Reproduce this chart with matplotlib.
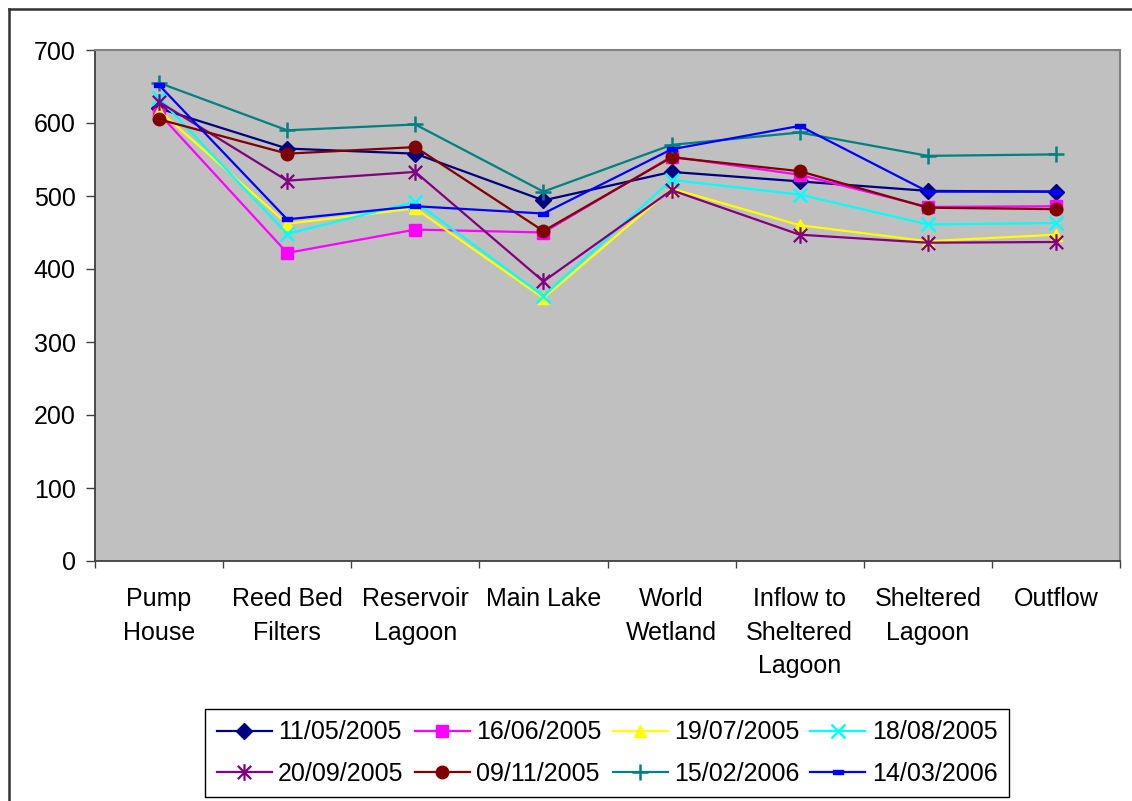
import matplotlib
matplotlib.use("Agg")
import matplotlib.pyplot as plt
import numpy as np
from matplotlib.lines import Line2D
from matplotlib.path import Path

plt.rcParams['font.family'] = ['Liberation Sans', 'DejaVu Sans']

# Sampling sites along the water course
sites = ["Pump\nHouse", "Reed Bed\nFilters", "Reservoir\nLagoon", "Main Lake",
         "World\nWetland", "Inflow to\nSheltered\nLagoon", "Sheltered\nLagoon", "Outflow"]

# Sampling dates (series labels)
dates = ["11/05/2005", "16/06/2005", "19/07/2005", "18/08/2005",
         "20/09/2005", "09/11/2005", "15/02/2006", "14/03/2006"]

# Measured values per sampling date, one value per site
s_2005_05_11 = [620, 565, 558, 494, 533, 520, 507, 506]
s_2005_06_16 = [613, 422, 454, 450, 554, 529, 485, 486]
s_2005_07_19 = [617, 462, 483, 360, 510, 460, 438, 447]
s_2005_08_18 = [634, 448, 492, 363, 522, 502, 461, 463]
s_2005_09_20 = [629, 521, 533, 383, 508, 447, 436, 437]
s_2005_11_09 = [605, 558, 567, 452, 553, 534, 484, 482]
s_2006_02_15 = [655, 590, 598, 506, 570, 587, 555, 557]
s_2006_03_14 = [652, 468, 486, 476, 564, 596, 506, 506]

series = [s_2005_05_11, s_2005_06_16, s_2005_07_19, s_2005_08_18,
          s_2005_09_20, s_2005_11_09, s_2006_02_15, s_2006_03_14]

colors = ["#000080", "#FF00FF", "#FFFF00", "#00FFFF",
          "#800080", "#800000", "#008080", "#0000FF"]

# small horizontal bar marker
dash = [(-1, -0.45), (1, -0.45), (1, 0.45), (-1, 0.45), (-1, -0.45)]
# six-armed asterisk made of three strokes
asterisk = Path([(0, -1), (0, 1), (-0.8, -0.8), (0.8, 0.8), (-0.8, 0.8), (0.8, -0.8)],
                [Path.MOVETO, Path.LINETO, Path.MOVETO, Path.LINETO, Path.MOVETO, Path.LINETO])
markers = ["D", "s", "^", "x", asterisk, "o", "+", dash]
msizes = [8, 8, 9, 10, 12, 9, 12, 7]
mews = [1, 1, 1, 1.8, 1.6, 1, 1.8, 1]

W, H = 1132, 801
fig = plt.figure(figsize=(W / 100, H / 100), dpi=100)
fig.patch.set_facecolor("white")

ax = fig.add_axes([95 / W, 1 - 561 / H, 1025 / W, 511 / H])
ax.set_facecolor("#C0C0C0")

x = np.arange(len(sites))
handles = []
for vals, lab, col, mk, ms, mew in zip(series, dates, colors, markers, msizes, mews):
    ln, = ax.plot(x, vals, color=col, lw=1.6, marker=mk, markersize=ms,
                  markerfacecolor=col, markeredgecolor=col, markeredgewidth=mew,
                  label=lab, clip_on=False)
    handles.append(ln)

ax.set_xlim(-0.5, len(sites) - 0.5)
ax.set_ylim(0, 700)
ax.set_yticks(np.arange(0, 701, 100))
ax.tick_params(axis="y", labelsize=18, length=6.5, width=1, pad=7.5, colors="#404040",
               labelcolor="black", direction="out")

ax.set_xticks(x)
ax.set_xticklabels(sites, linespacing=1.5)
ax.tick_params(axis="x", which="major", length=0, pad=19, labelsize=18)
ax.set_xticks(np.arange(-0.5, len(sites), 1.0), minor=True)
ax.tick_params(axis="x", which="minor", length=5, width=1, colors="#404040", direction="out")

for side in ["left", "bottom"]:
    ax.spines[side].set_color("#404040")
    ax.spines[side].set_linewidth(1.3)
for side in ["top", "right"]:
    ax.spines[side].set_color("#808080")
    ax.spines[side].set_linewidth(1.5)

# Legend: 4 columns, filled row by row
order = [0, 4, 1, 5, 2, 6, 3, 7]
leg = fig.legend([handles[i] for i in order], [dates[i] for i in order],
                 ncol=4, loc="upper center",
                 bbox_to_anchor=(607 / W, 1 - 709 / H), bbox_transform=fig.transFigure,
                 borderaxespad=0,
                 fontsize=18, frameon=True, fancybox=False, shadow=False,
                 edgecolor="black", framealpha=1, handlelength=2.2, handletextpad=0.25,
                 columnspacing=0.45, labelspacing=0.7, borderpad=0.45)
leg.get_frame().set_linewidth(1.0)

# Outer chart border
fig.add_artist(Line2D([9 / W, 1.0], [1 - 9 / H, 1 - 9 / H], transform=fig.transFigure,
                      color="#333333", lw=1.8))
fig.add_artist(Line2D([9 / W, 9 / W], [0, 1 - 9 / H], transform=fig.transFigure,
                      color="#333333", lw=1.8))

fig.savefig("out.png", dpi=100)
